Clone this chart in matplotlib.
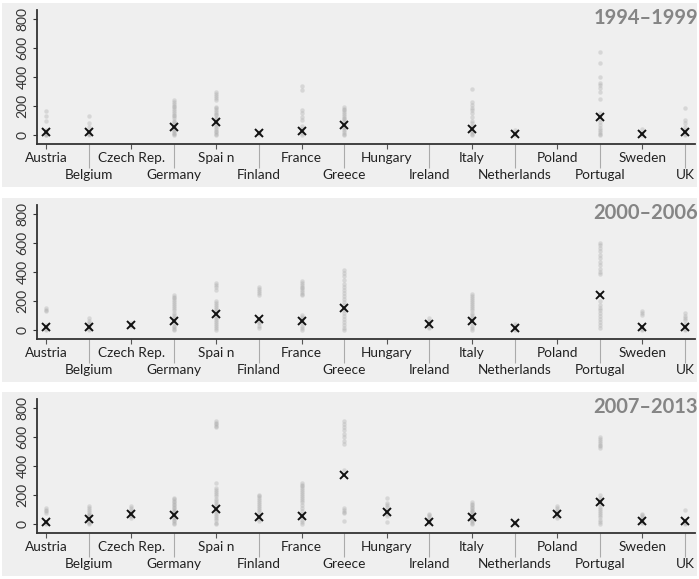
import numpy as np
import matplotlib
matplotlib.use("Agg")
import matplotlib.pyplot as plt
from matplotlib.patches import Rectangle

plt.rcParams['font.family'] = ['Lato', 'DejaVu Sans']

countries = ["Austria", "Belgium", "Czech Rep.", "Germany", "Spai n", "Finland",
             "France", "Greece", "Hungary", "Ireland", "Italy", "Netherlands",
             "Poland", "Portugal", "Sweden", "UK"]
periods = ["1994\u20131999", "2000\u20132006", "2007\u20132013"]
yticks = [0, 200, 400, 600, 800]
nan = float('nan')

dots_1994 = [
    [165, 131, 99, 35, 25, 15, 8, 3, 0],
    [133, 85, 57, 30, 20, 10, 5, 0],
    [],
    [240, 228, 215, 200, 190, 178, 165, 152, 140, 128, 115, 100, 90, 78, 65, 55, 45, 35, 25, 15, 8, 0],
    [300, 285, 270, 255, 240, 195, 185, 172, 160, 148, 135, 120, 108, 95, 80, 68, 55, 42, 30, 18, 8, 0],
    [20, 12, 5],
    [335, 312, 172, 150, 126, 103, 60, 40, 25, 12, 0],
    [195, 182, 170, 158, 145, 132, 120, 108, 95, 82, 70, 58, 45, 32, 20, 10, 0],
    [],
    [],
    [315, 230, 205, 185, 172, 150, 126, 100, 80, 60, 45, 30, 18, 8, 0],
    [35, 20, 8, 0],
    [],
    [570, 494, 402, 360, 345, 322, 299, 246, 150, 130, 110, 90, 70, 50, 35, 20, 8, 0],
    [39, 15, 0],
    [184, 103, 80, 55, 35, 20, 8, 0],
]
means_1994 = [23, 23, nan, 53, 87, 11, 30, 69, nan, nan, 39, 7, nan, 126, 5, 18]

dots_2000 = [
    [150, 140, 132, 35, 20, 8, 0],
    [80, 65, 50, 35, 22, 10, 0],
    [45, 35, 25],
    [243, 230, 218, 205, 192, 180, 165, 150, 135, 120, 105, 90, 75, 60, 45, 30, 18, 6, 0],
    [325, 310, 295, 278, 197, 185, 172, 160, 145, 130, 115, 100, 85, 70, 55, 40, 25, 12, 0],
    [300, 285, 270, 255, 243, 58, 45, 30, 12],
    [336, 325, 312, 300, 288, 275, 262, 250, 243, 104, 90, 75, 60, 45, 30, 15, 0],
    [417, 395, 370, 345, 320, 295, 275, 255, 235, 215, 195, 175, 155, 135, 115, 95, 75, 55, 35, 15, 0],
    [],
    [81, 65, 50, 35, 20, 12],
    [248, 235, 222, 208, 195, 180, 165, 150, 135, 120, 105, 90, 75, 60, 45, 30, 15, 0],
    [39, 25, 10, 0],
    [],
    [603, 585, 565, 545, 520, 495, 470, 445, 420, 400, 383, 197, 175, 155, 135, 115, 95, 75, 55, 35, 12],
    [128, 115, 104, 20, 10, 0],
    [116, 100, 85, 70, 40, 25, 10, 0],
]
means_2000 = [23, 23, 35, 63, 111, 77, 63, 151, nan, 42, 65, 12, nan, 239, 19, 23]

dots_2007 = [
    [111, 100, 88, 76, 12, 5, 0],
    [122, 110, 98, 85, 72, 60, 53, 15, 5, 0],
    [122, 110, 98, 86, 75, 64, 53, 42],
    [180, 170, 160, 150, 140, 130, 120, 110, 100, 90, 80, 70, 60, 50, 40, 30, 20, 10, 0],
    [712, 700, 688, 676, 666, 284, 250, 235, 220, 205, 190, 175, 160, 145, 130, 115, 100, 85, 70, 55, 40, 25, 10, 0],
    [203, 190, 178, 165, 152, 140, 125, 110, 95, 80, 65, 50, 35, 18],
    [284, 272, 260, 248, 236, 224, 210, 196, 182, 168, 150, 130, 110, 90, 70, 50, 30, 15, 0],
    [712, 690, 668, 645, 622, 600, 575, 550, 375, 111, 98, 86, 76, 18],
    [180, 146, 130, 115, 100, 85, 70, 53, 12],
    [72, 60, 48, 36, 24, 12, 7],
    [150, 140, 130, 120, 110, 100, 90, 80, 70, 60, 50, 40, 30, 20, 10, 0],
    [15, 7, 0],
    [122, 110, 98, 86, 75, 64, 53, 42],
    [597, 585, 572, 560, 548, 537, 527, 197, 180, 165, 150, 135, 120, 105, 90, 75, 60, 45, 30, 15, 0],
    [72, 60, 48, 36, 24, 12, 7],
    [99, 30, 15, 5, 0],
]
means_2007 = [14, 37, 69, 65, 106, 49, 53, 340, 83, 14, 46, 7, 69, 153, 23, 18]

all_dots = [dots_1994, dots_2000, dots_2007]
all_means = [means_1994, means_2000, means_2007]

W, H = 699, 579
fig = plt.figure(figsize=(W / 100, H / 100), dpi=100)
fig.patch.set_facecolor('white')

panel_tops = [3, 198, 392]
panel_h = 184
pos = np.arange(1, len(countries) + 1)

for k in range(3):
    top = panel_tops[k]
    fig.patches.append(Rectangle((2 / W, 1 - (top + panel_h) / H), 695 / W, panel_h / H,
                                 transform=fig.transFigure, facecolor='#efefef',
                                 edgecolor='none', zorder=-10))
    ax_left, ax_right = 37, 695
    ax_top, ax_bot = top + 7, top + 141
    ax = fig.add_axes([ax_left / W, 1 - ax_bot / H, (ax_right - ax_left) / W, (ax_bot - ax_top) / H])
    ax.patch.set_alpha(0)
    upp = 15 / (685 - 46)
    ax.set_xlim(1 - 9 * upp, 16 + 10 * upp)
    ypp = 800 / 116
    ax.set_ylim(-9 * ypp, 800 + 9 * ypp)

    for i, vals in enumerate(all_dots[k]):
        if len(vals):
            ax.plot(np.full(len(vals), pos[i]), vals, 'o', color='#a8a8a8', alpha=0.35,
                    markersize=3.2, markeredgewidth=0, zorder=2)
    ax.plot(pos, all_means[k], 'x', color='#111111', markersize=5.5, markeredgewidth=1.4,
            linestyle='none', zorder=3)

    for s in ['top', 'right']:
        ax.spines[s].set_visible(False)
    for s in ['left', 'bottom']:
        ax.spines[s].set_color('#333333')
        ax.spines[s].set_linewidth(1.3)

    ax.set_yticks(yticks)
    ax.set_yticklabels([str(v) for v in yticks], rotation=90, va='center',
                       fontsize=10, color='#333333')
    ax.tick_params(axis='y', length=3, width=0.8, color='#333333', pad=3)

    ax.set_xticks(pos[0::2])
    ax.set_xticks(pos[1::2], minor=True)
    ax.set_xticklabels([])
    ax.tick_params(axis='x', which='major', length=3.5, width=0.8, color='#555555')
    ax.tick_params(axis='x', which='minor', length=17, width=0.8, color='#aaaaaa')

    for i, name in enumerate(countries):
        off = -10.2 if i % 2 == 0 else -22.5
        ax.annotate(name, xy=(pos[i], 0), xycoords=('data', 'axes fraction'),
                    xytext=(0, off), textcoords='offset points', ha='center', va='center',
                    fontsize=9.8, color='#222222', annotation_clip=False)

    fig.text(698 / W, 1 - (top + 15) / H, periods[k], ha='right', va='center',
             fontsize=14.5, fontweight='bold', color='#858585')

fig.savefig('out.png', dpi=100, facecolor='white')
